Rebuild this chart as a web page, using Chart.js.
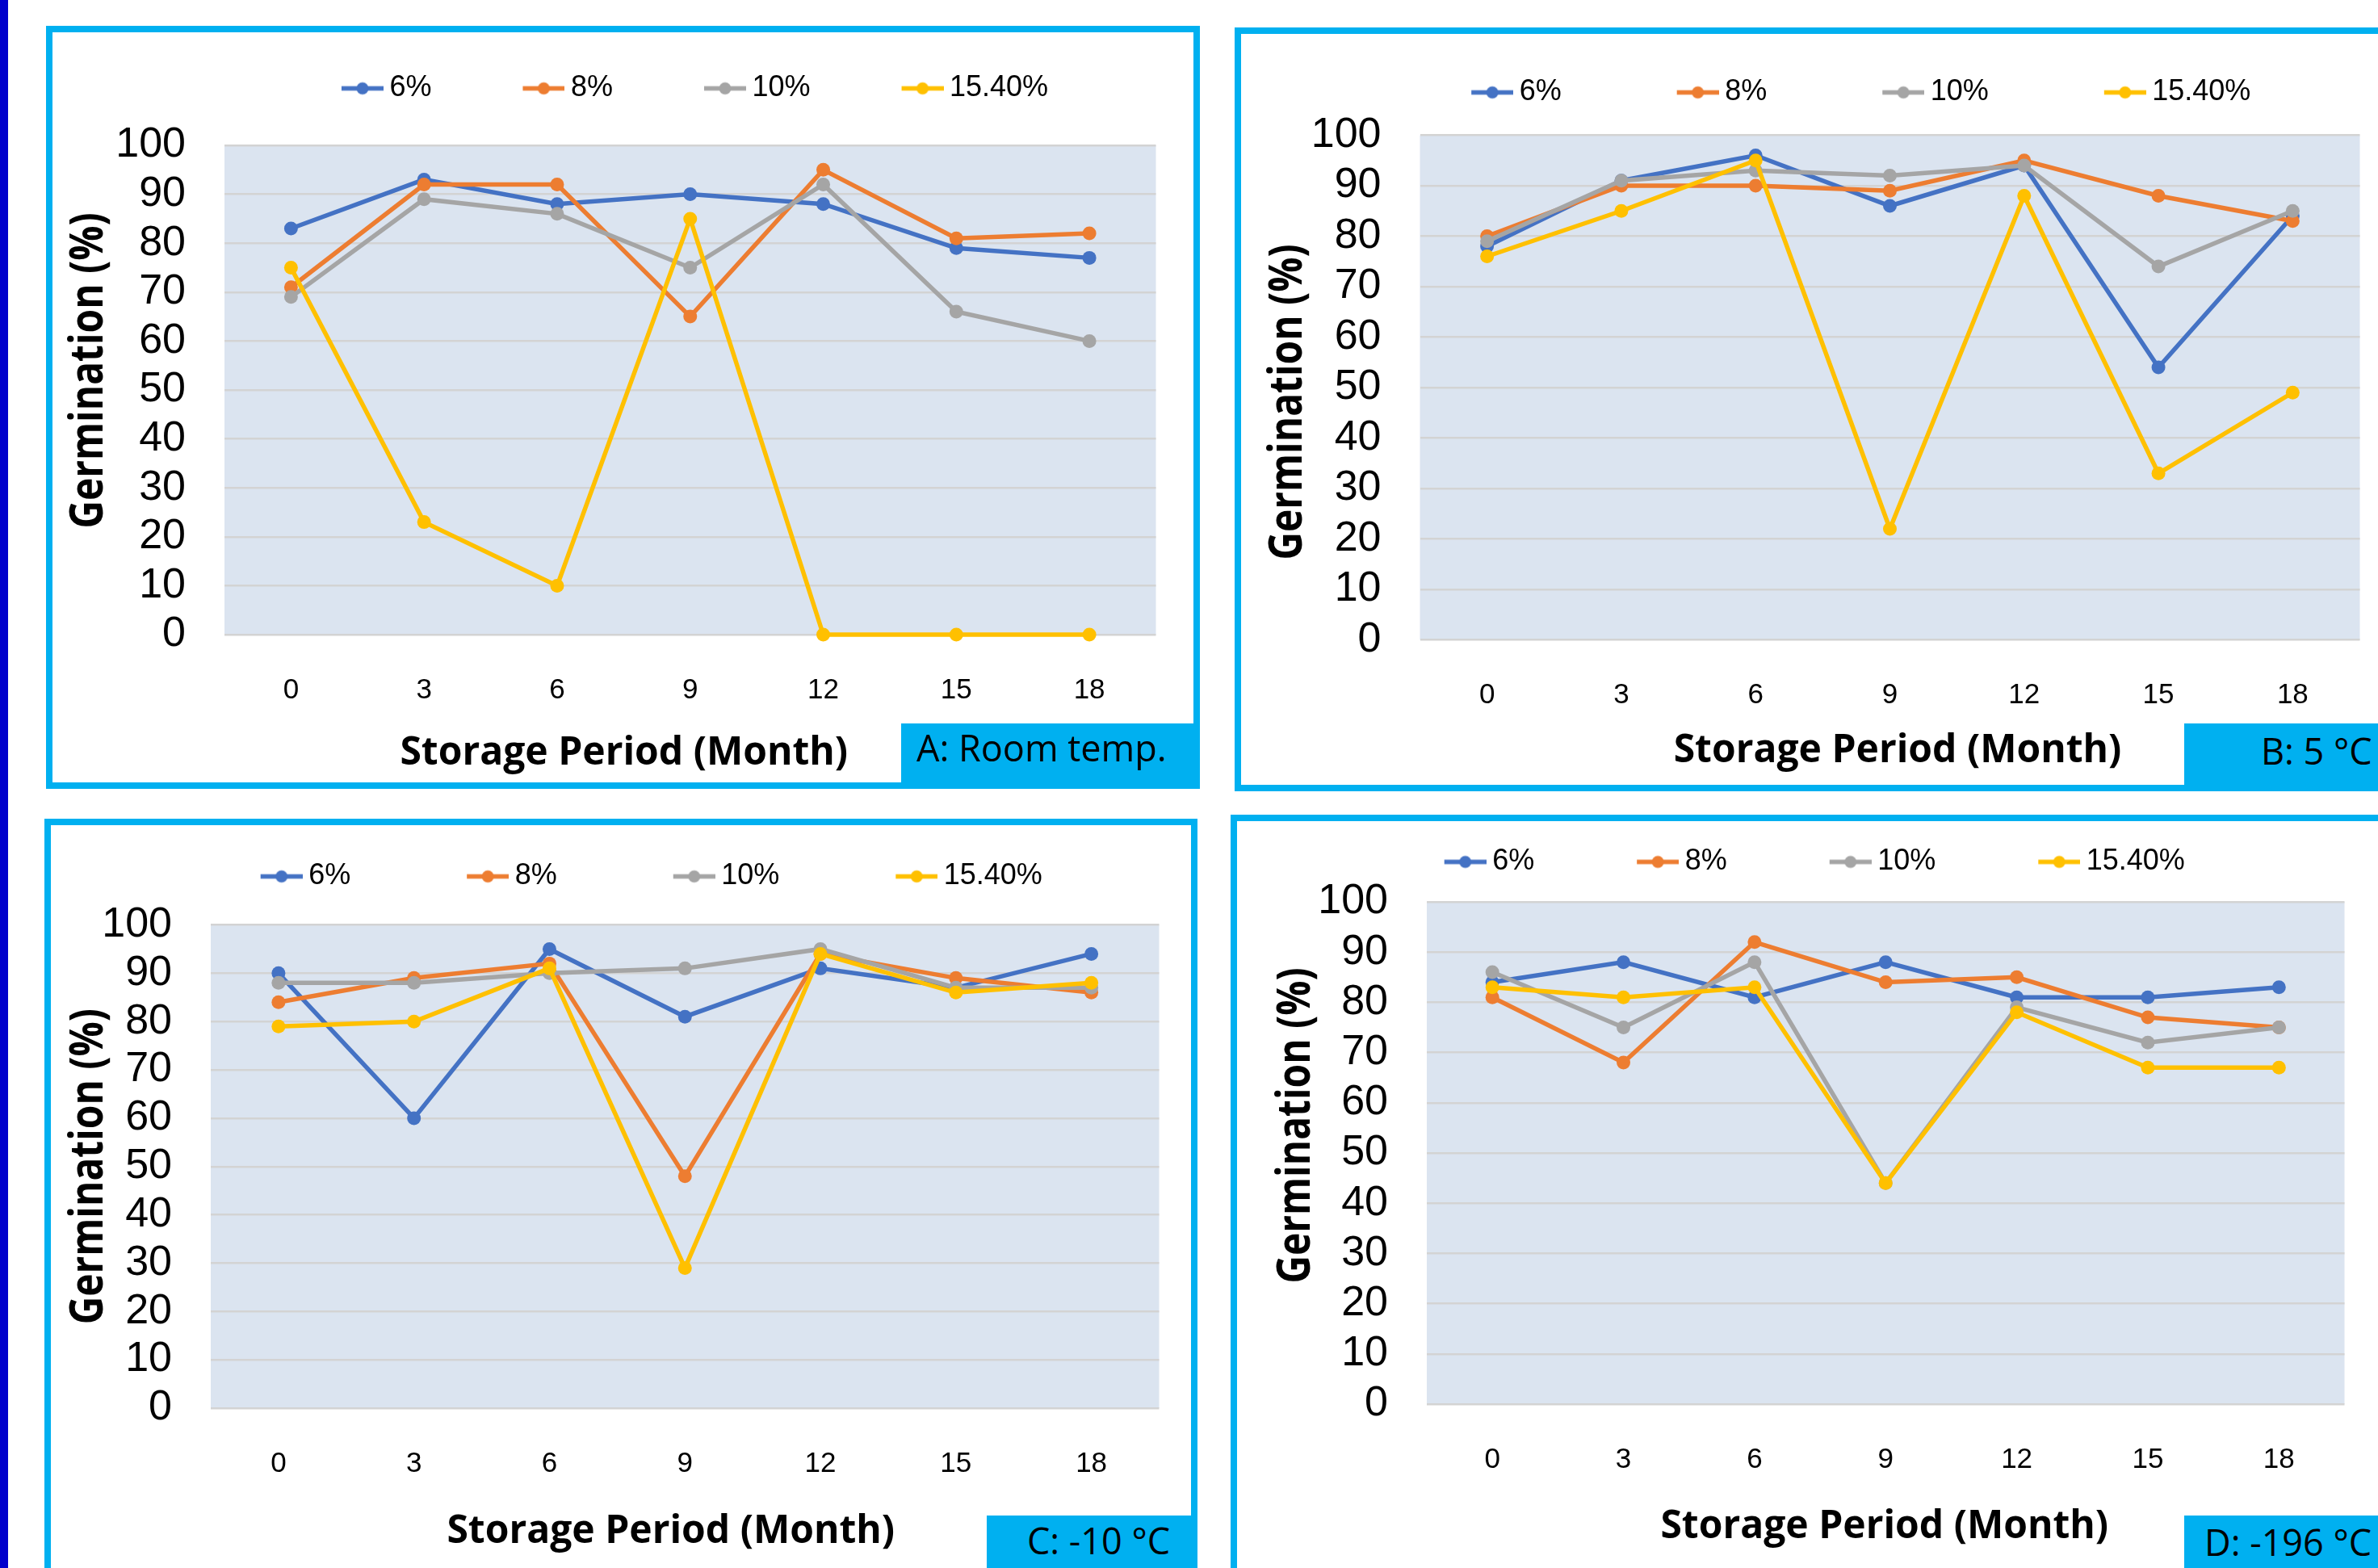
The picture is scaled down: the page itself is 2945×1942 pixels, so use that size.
<!DOCTYPE html>
<html>
<head>
<meta charset="utf-8">
<title>Germination after storage</title>
<script src="https://cdn.jsdelivr.net/npm/chart.js@4.4.1/dist/chart.umd.min.js"></script>
<style>
  html, body { margin: 0; padding: 0; }
  body { width: 2945px; height: 1942px; position: relative; overflow: hidden; background: #ffffff; }
  .strip { position: absolute; left: 0; top: 0; width: 10px; height: 1942px; background: #0000CC; }
  .panel { position: absolute; box-sizing: border-box; border: 8px solid #00B0F0; }
  .plot { position: absolute; }
  .tag { position: absolute; background: #00B0F0; }
  .tag span { position: absolute; font-family: 'Open Sans', 'Liberation Sans', sans-serif; font-size: 45px; line-height: 45px; color: #000; white-space: nowrap; }
</style>
</head>
<body>
<div class="strip"></div>

<div class="panel" style="left:57px;top:32px;width:1429px;height:945px"></div>
<div class="panel" style="left:1529px;top:34px;width:1500px;height:946px"></div>
<div class="panel" style="left:55px;top:1014px;width:1428px;height:1000px"></div>
<div class="panel" style="left:1524px;top:1009px;width:1500px;height:1000px"></div>

<div class="plot" id="boxA"><canvas id="chartA"></canvas></div>
<div class="plot" id="boxB"><canvas id="chartB"></canvas></div>
<div class="plot" id="boxC"><canvas id="chartC"></canvas></div>
<div class="plot" id="boxD"><canvas id="chartD"></canvas></div>

<div class="tag" style="left:1116px;top:896px;width:370px;height:81px"><span style="left:19px;top:7px">A: Room temp.</span></div>
<div class="tag" style="left:2705px;top:896px;width:300px;height:84px"><span style="left:95px;top:11px">B: 5 °C</span></div>
<div class="tag" style="left:1222px;top:1877px;width:261px;height:100px"><span style="left:50px;top:8px">C: -10 °C</span></div>
<div class="tag" style="left:2705px;top:1877px;width:300px;height:100px"><span style="left:25px;top:10px">D: -196 °C</span></div>

<script>
// Storage period (months) and seed moisture contents
const months = ['0', '3', '6', '9', '12', '15', '18'];
const moistureLevels = ['6%', '8%', '10%', '15.40%'];

// A: room temperature, germination (%)
const roomTemp6   = [83, 93, 88, 90, 88, 79, 77];
const roomTemp8   = [71, 92, 92, 65, 95, 81, 82];
const roomTemp10  = [69, 89, 86, 75, 92, 66, 60];
const roomTemp154 = [75, 23, 10, 85, 0, 0, 0];

// B: 5 °C
const fiveC6   = [78, 91, 96, 86, 94, 54, 84];
const fiveC8   = [80, 90, 90, 89, 95, 88, 83];
const fiveC10  = [79, 91, 93, 92, 94, 74, 85];
const fiveC154 = [76, 85, 95, 22, 88, 33, 49];

// C: -10 °C
const minus10C6   = [90, 60, 95, 81, 91, 87, 94];
const minus10C8   = [84, 89, 92, 48, 94, 89, 86];
const minus10C10  = [88, 88, 90, 91, 95, 87, 87];
const minus10C154 = [79, 80, 91, 29, 94, 86, 88];

// D: -196 °C (liquid nitrogen)
const minus196C6   = [84, 88, 81, 88, 81, 81, 83];
const minus196C8   = [81, 68, 92, 84, 85, 77, 75];
const minus196C10  = [86, 75, 88, 44, 79, 72, 75];
const minus196C154 = [83, 81, 83, 44, 78, 67, 67];

const yTicks = { min: 0, max: 100, step: 10 };
const xAxisTitle = 'Storage Period (Month)';
const yAxisTitle = 'Germination (%)';

const seriesColors = ['#4472C4', '#ED7D31', '#A5A5A5', '#FFC000'];

// Geometry of each panel's canvas, chart area and legend band (canvas px)
const panels = [
  { id: 'A', series: [roomTemp6, roomTemp8, roomTemp10, roomTemp154],
    box: { left: 65, top: -3, width: 1375, height: 989 },
    axisWidth: 213, xAxisHeight: 200, legendHeight: 183, legendGap: 94.5, legendLeft: 206,
    xTitleShift: -82, xTitleDrop: 161, yTitleGap: 151, yTitleShift: -24 },
  { id: 'B', series: [fiveC6, fiveC8, fiveC10, fiveC154],
    box: { left: 1537, top: -28, width: 1394, height: 1021 },
    axisWidth: 221.5, xAxisHeight: 200.5, legendHeight: 195.5, legendGap: 124.5, legendLeft: 131.5,
    xTitleShift: 9.5, xTitleDrop: 151.5, yTitleGap: 147, yTitleShift: 18 },
  { id: 'C', series: [minus10C6, minus10C8, minus10C10, minus10C154],
    box: { left: 63, top: 942, width: 1381, height: 1002 },
    axisWidth: 198, xAxisHeight: 200, legendHeight: 203.5, legendGap: 125.5, legendLeft: 96.5,
    xTitleShift: -17.5, xTitleDrop: 167, yTitleGap: 134, yTitleShift: 0 },
  { id: 'D', series: [minus196C6, minus196C8, minus196C10, minus196C154],
    box: { left: 1532, top: 941, width: 1380, height: 998 },
    axisWidth: 235, xAxisHeight: 200, legendHeight: 176, legendGap: 108.5, legendLeft: 40.5,
    xTitleShift: -1.5, xTitleDrop: 166, yTitleGap: 145, yTitleShift: -34 }
];

Chart.defaults.font.family = "'Liberation Sans', Arial, sans-serif";
Chart.defaults.color = '#000000';

// Line-with-marker swatch used for legend entries
function legendSwatch(color) {
  const c = document.createElement('canvas');
  c.width = 81;
  c.height = 20;
  const g = c.getContext('2d');
  g.strokeStyle = color;
  g.lineWidth = 5.5;
  g.beginPath();
  g.moveTo(29, 10);
  g.lineTo(81, 10);
  g.stroke();
  g.fillStyle = color;
  g.beginPath();
  g.arc(55, 10, 7.5, 0, Math.PI * 2);
  g.fill();
  return c;
}

// Shaded plot area
const plotBackground = {
  id: 'plotBackground',
  beforeDraw(chart, args, opts) {
    const { ctx, chartArea: a } = chart;
    ctx.save();
    ctx.fillStyle = opts.color;
    ctx.fillRect(a.left, a.top, a.right - a.left, a.bottom - a.top);
    ctx.restore();
  }
};

// Fixed band for the legend: its height above the plot and its horizontal span
const legendBand = {
  id: 'legendBand',
  afterInit(chart, args, opts) {
    const legend = chart.legend;
    const fit = legend.fit;
    legend.fit = function () {
      fit.call(this);
      this.height = opts.height;
    };
  },
  afterLayout(chart, args, opts) {
    const legend = chart.legend;
    legend.left = opts.left;
    legend.right = chart.chartArea.right;
    legend.width = legend.right - legend.left;
  }
};

// Axis titles placed relative to the chart area
const axisCaptions = {
  id: 'axisCaptions',
  afterDraw(chart, args, opts) {
    const { ctx, chartArea: a } = chart;
    ctx.save();
    ctx.fillStyle = '#000000';
    ctx.textAlign = 'center';
    ctx.textBaseline = 'alphabetic';
    ctx.font = opts.xFont;
    ctx.fillText(opts.xText, (a.left + a.right) / 2 + opts.xShift, a.bottom + opts.xDrop);
    ctx.font = opts.yFont;
    ctx.translate(a.left - opts.yGap, (a.top + a.bottom) / 2 + opts.yShift);
    ctx.rotate(-Math.PI / 2);
    ctx.scale(opts.yCondense, 1);
    ctx.fillText(opts.yText, 0, 0);
    ctx.restore();
  }
};

panels.forEach((p) => {
  const holder = document.getElementById('box' + p.id);
  holder.style.left = p.box.left + 'px';
  holder.style.top = p.box.top + 'px';
  holder.style.width = p.box.width + 'px';
  holder.style.height = p.box.height + 'px';

  const datasets = p.series.map((values, i) => ({
    label: moistureLevels[i],
    data: values,
    borderColor: seriesColors[i],
    backgroundColor: seriesColors[i],
    pointBackgroundColor: seriesColors[i],
    pointBorderColor: seriesColors[i],
    borderWidth: 5.5,
    pointRadius: 8.5,
    pointBorderWidth: 0,
    tension: 0,
    clip: false,
    order: p.series.length - i
  }));

  new Chart(document.getElementById('chart' + p.id), {
    type: 'line',
    data: { labels: months, datasets },
    plugins: [plotBackground, legendBand, axisCaptions],
    options: {
      responsive: true,
      maintainAspectRatio: false,
      animation: false,
      devicePixelRatio: 1,
      events: [],
      layout: { padding: { left: 0, right: 0, top: 0, bottom: 0 } },
      plugins: {
        plotBackground: { color: '#DBE4F0' },
        legendBand: { height: p.legendHeight, left: p.legendLeft },
        axisCaptions: {
          xFont: "bold 48px 'Open Sans', 'Liberation Sans', sans-serif",
          yFont: "bold 57px 'Open Sans', 'Liberation Sans', sans-serif",
          yCondense: 0.84,
          xText: xAxisTitle, yText: yAxisTitle,
          xShift: p.xTitleShift, xDrop: p.xTitleDrop,
          yGap: p.yTitleGap, yShift: p.yTitleShift
        },
        tooltip: { enabled: false },
        legend: {
          display: true,
          position: 'top',
          align: 'center',
          labels: {
            usePointStyle: true,
            pointStyleWidth: 60,
            padding: p.legendGap,
            color: '#000000',
            font: { size: 36 },
            generateLabels(chart) {
              return chart.data.datasets.map((ds, i) => ({
                text: ds.label,
                fillStyle: ds.borderColor,
                strokeStyle: ds.borderColor,
                lineWidth: 0,
                pointStyle: legendSwatch(ds.borderColor),
                hidden: false,
                datasetIndex: i,
                fontColor: '#000000'
              }));
            }
          }
        }
      },
      scales: {
        x: {
          type: 'category',
          offset: true,
          grid: { display: false, drawTicks: false },
          border: { display: false },
          ticks: { autoSkip: false, maxRotation: 0, padding: 48, color: '#000000', font: { size: 35 } },
          afterFit(scale) {
            scale.height = p.xAxisHeight;
            scale.paddingLeft = 0;
            scale.paddingRight = 0;
          }
        },
        y: {
          min: yTicks.min,
          max: yTicks.max,
          grid: { color: '#D3D3D3', lineWidth: 2.5, drawTicks: false },
          border: { display: false },
          ticks: { stepSize: yTicks.step, autoSkip: false, padding: 48, color: '#000000', font: { size: 52 } },
          afterFit(scale) {
            scale.width = p.axisWidth;
          }
        }
      }
    }
  });
});
</script>
</body>
</html>
